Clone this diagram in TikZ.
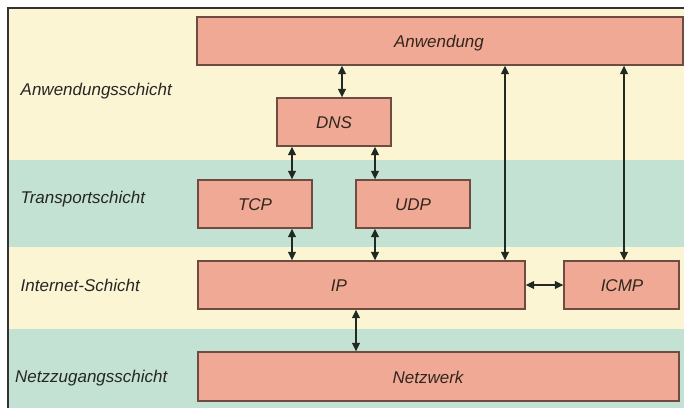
\documentclass[tikz,border=0pt]{standalone}
\usepackage{fontspec}
\setmainfont{Liberation Sans}
\usetikzlibrary{arrows.meta}
\definecolor{bandY}{HTML}{FCF5D3}
\definecolor{bandT}{HTML}{C3E2D3}
\definecolor{boxfill}{HTML}{EFA994}
\definecolor{boxline}{HTML}{6E4C42}
\definecolor{boxtext}{HTML}{33261F}
\definecolor{labtext}{HTML}{262626}
\definecolor{arrcol}{HTML}{1E2A22}
\tikzset{
  layerbox/.style={draw=boxline, line width=1.4pt, fill=boxfill, inner sep=0pt},
  boxlabel/.style={text=boxtext, font=\fontsize{17}{19}\selectfont\itshape, inner sep=0pt, text height=12.3pt, text depth=0pt},
  layerlabel/.style={text=labtext, font=\fontsize{17}{19}\selectfont\itshape, inner sep=0pt, anchor=base west},
  arr/.style={draw=arrcol, line width=1.2pt, {Triangle[length=8.5pt,width=8pt]}-{Triangle[length=8.5pt,width=8pt]}},
}
\begin{document}
\begin{tikzpicture}[x=1pt,y=-1pt]
\useasboundingbox (0,0) rectangle (684,408);
\fill[white] (0,0) rectangle (684,408);
% bands
\fill[bandY] (8,8) rectangle (684,160);
\fill[bandT] (8,160) rectangle (684,247);
\fill[bandY] (8,247) rectangle (684,329);
\fill[bandT] (8,329) rectangle (684,408);
% frame
\draw[line width=1.6pt, draw=black!80] (8,408) -- (8,8) -- (684,8);
% boxes
\node[layerbox, minimum width=486pt, minimum height=48pt] (anw) at (440,41) {};
\node[boxlabel] (anwt) at (439,41) {Anwendung};
\node[layerbox, minimum width=114pt, minimum height=48pt] (dns) at (334,122) {};
\node[boxlabel] (dnst) at (334,122) {DNS};
\node[layerbox, minimum width=114pt, minimum height=48pt] (tcp) at (255,204) {};
\node[boxlabel] (tcpt) at (255,204) {TCP};
\node[layerbox, minimum width=114pt, minimum height=48pt] (udp) at (413,204) {};
\node[boxlabel] (udpt) at (413,204) {UDP};
\node[layerbox, minimum width=327pt, minimum height=48pt] (ip) at (361.5,285) {};
\node[boxlabel] (ipt) at (339,285) {IP};
\node[layerbox, minimum width=115pt, minimum height=48pt] (icmp) at (621.5,285) {};
\node[boxlabel] (icmpt) at (622,285) {ICMP};
\node[layerbox, minimum width=481pt, minimum height=49pt] (netz) at (438.5,376.5) {};
\node[boxlabel] (netzt) at (428,377) {Netzwerk};
% layer labels
\node[layerlabel] (l1) at (20.5,95) {Anwendungsschicht};
\node[layerlabel] (l2) at (20.5,203) {Transportschicht};
\node[layerlabel] (l3) at (20.5,291) {Internet-Schicht};
\node[layerlabel] (l4) at (15,382) {Netzzugangsschicht};
% connectors
\draw[arr] (anw.south -| 342,0) -- (dns.north -| 342,0);
\draw[arr] (dns.south -| 292,0) -- (tcp.north -| 292,0);
\draw[arr] (dns.south -| 375,0) -- (udp.north -| 375,0);
\draw[arr] (tcp.south -| 292,0) -- (ip.north -| 292,0);
\draw[arr] (udp.south -| 375,0) -- (ip.north -| 375,0);
\draw[arr] (anw.south -| 505,0) -- (ip.north -| 505,0);
\draw[arr] (anw.south -| 624,0) -- (icmp.north -| 624,0);
\draw[arr] (ip.east) -- (icmp.west);
\draw[arr] (ip.south -| 356,0) -- (netz.north -| 356,0);
\end{tikzpicture}
\end{document}
